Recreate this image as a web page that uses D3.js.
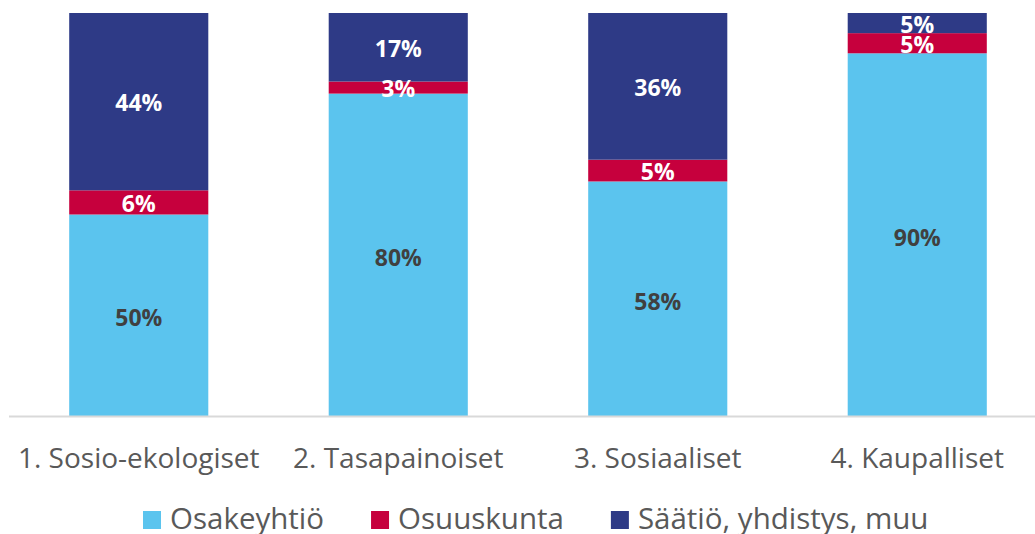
<!DOCTYPE html>
<html>
<head>
  <meta charset="utf-8">
  <script src="https://d3js.org/d3.v7.min.js"></script>
  <style>
  body { margin: 0; background: #fff; }
  text { font-family: "Open Sans", sans-serif; }
  </style>
</head>
<body>
<script>
// data (percent)
var categories = ['1. Sosio-ekologiset', '2. Tasapainoiset', '3. Sosiaaliset', '4. Kaupalliset'];
var seriesNames = ['Osakeyhtiö', 'Osuuskunta', 'Säätiö, yhdistys, muu'];
var osakeyhtio = [50, 80, 58.2, 90];
var osuuskunta = [6, 3, 5.4, 5];
var saatio = [44, 17, 36.4, 5];

var colours = ['#5BC4EE', '#C6003D', '#2E3A86'];
var labelColours = ['#404040', '#ffffff', '#ffffff'];

var width = 1035, height = 534;

var svg = d3.select('body').append('svg')
  .attr('width', width)
  .attr('height', height);

var rows = categories.map(function(c, i) {
  return { cat: c, s0: osakeyhtio[i], s1: osuuskunta[i], s2: saatio[i] };
});
var stack = d3.stack().keys(['s0', 's1', 's2'])(rows);

var x = d3.scaleBand().domain(categories)
  .range([9, 1047])
  .paddingInner(0.464)
  .paddingOuter(0.232);
var y = d3.scaleLinear().domain([0, 100]).range([416, 13]);

var chart = svg.append('g').attr('class', 'chart');

var layers = chart.selectAll('g.layer')
  .data(stack)
  .enter().append('g')
  .attr('class', 'layer')
  .attr('fill', function(d, i) { return colours[i]; });

layers.selectAll('rect')
  .data(function(d) { return d; })
  .enter().append('rect')
  .attr('x', function(d) { return x(d.data.cat); })
  .attr('width', x.bandwidth())
  .attr('y', function(d) { return y(d[1]); })
  .attr('height', function(d) { return y(d[0]) - y(d[1]); });

// value labels
stack.forEach(function(layer, li) {
  chart.selectAll('text.lbl' + li)
    .data(layer)
    .enter().append('text')
    .attr('class', 'lbl' + li)
    .attr('x', function(d) { return x(d.data.cat) + x.bandwidth() / 2; })
    .attr('y', function(d) { return (y(d[0]) + y(d[1])) / 2; })
    .attr('dy', li == 0 ? '0.48em' : '0.42em')
    .attr('text-anchor', 'middle')
    .attr('font-size', 23)
    .attr('font-weight', 700)
    .attr('fill', labelColours[li])
    .text(function(d) { return Math.round(d[1] - d[0]) + '%'; });
});

// x axis
var xAxis = chart.append('g')
  .attr('transform', 'translate(0,416)')
  .call(d3.axisBottom(x).tickSize(0).tickPadding(32));
xAxis.select('.domain')
  .attr('d', 'M9,0.5H1035')
  .attr('stroke', '#d9d9d9')
  .attr('stroke-width', 2);
xAxis.selectAll('.tick text')
  .attr('font-size', 28)
  .attr('fill', '#595959')
  .style('font-family', '"Open Sans", sans-serif');

// legend
var legend = svg.append('g').attr('class', 'legend');
var lx = 143;
seriesNames.forEach(function(name, i) {
  var item = legend.append('g').attr('transform', 'translate(' + lx + ',0)');
  item.append('rect')
    .attr('x', 0).attr('y', 511)
    .attr('width', 18).attr('height', 18)
    .attr('fill', colours[i]);
  var t = item.append('text')
    .attr('x', 27).attr('y', 529)
    .attr('font-size', 29.5)
    .attr('fill', '#595959')
    .text(name);
  lx += 27 + t.node().getComputedTextLength() + 47;
});
</script>
</body>
</html>
